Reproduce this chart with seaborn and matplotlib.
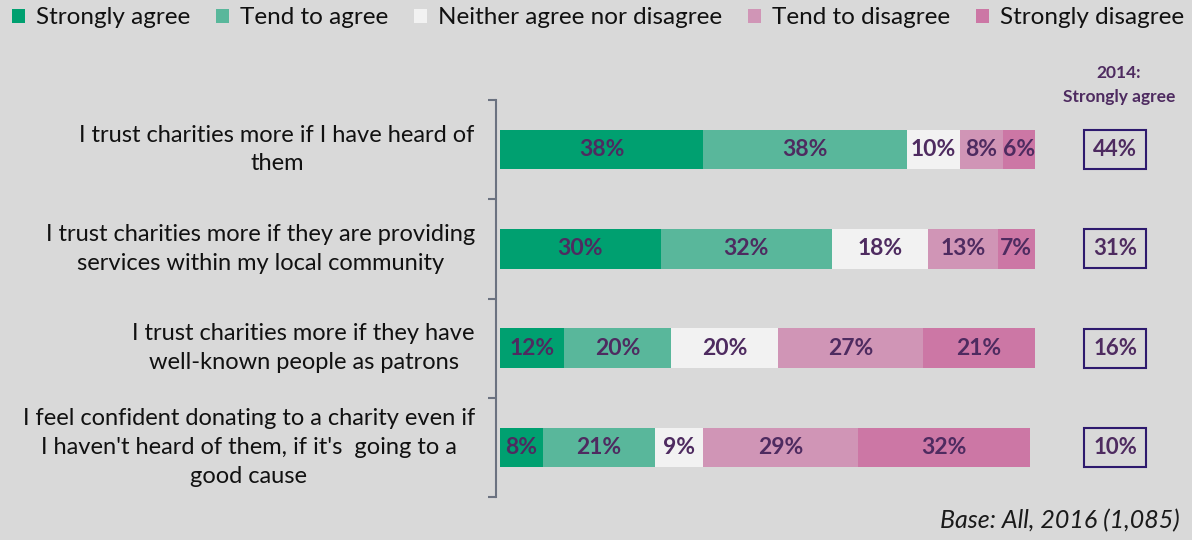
import numpy as np
import pandas as pd
import seaborn as sns
import matplotlib.pyplot as plt
from matplotlib.patches import Patch

statements = ["I trust charities more if I have heard of\nthem",
              "I trust charities more if they are providing\nservices within my local community",
              "I trust charities more if they have\nwell-known people as patrons",
              "I feel confident donating to a charity even if\nI haven't heard of them, if it's  going to a\ngood cause"]
levels = ["Strongly agree", "Tend to agree", "Neither agree nor disagree",
          "Tend to disagree", "Strongly disagree"]
strongly_agree = [38, 30, 12, 8]
tend_agree = [38, 32, 20, 21]
neither = [10, 18, 20, 9]
tend_disagree = [8, 13, 27, 29]
strongly_disagree = [6, 7, 21, 32]
agree_2014 = [44, 31, 16, 10]

colors = ["#00a070", "#59b79b", "#f2f2f2", "#d095b6", "#cc77a5"]
bg = "#d9d9d9"
label_col = "#4e2b60"

sns.set_theme(style="white")
plt.rcParams['font.family'] = ['Lato', 'DejaVu Sans']

df = pd.DataFrame({"statement": statements})
for name, vals in zip(levels, [strongly_agree, tend_agree, neither, tend_disagree, strongly_disagree]):
    df[name] = vals
cum = df[levels].cumsum(axis=1)

fig = plt.figure(figsize=(11.92, 5.4), dpi=100, facecolor=bg)
ax = fig.add_axes([500 / 1192, 43 / 540, 535 / 1192, 397 / 540])
ax.set_facecolor(bg)

# stacked bars: draw cumulative totals from the widest down
for i in range(len(levels) - 1, -1, -1):
    sns.barplot(x=cum[levels[i]], y=df["statement"], color=colors[i], orient="h",
                width=0.4, saturation=1, linewidth=0, ax=ax)

for r in range(len(df)):
    start = 0
    for lv in levels:
        v = df.loc[r, lv]
        ax.text(start + v / 2, r, f"{v}%", ha="center", va="center",
                fontsize=16.5, fontweight="bold", color=label_col)
        start += v
    ax.text(115, r, f"{agree_2014[r]}%", ha="center", va="center", fontsize=16,
            fontweight="bold", color=label_col, clip_on=False,
            bbox=dict(boxstyle="square,pad=0.4", fc=bg, ec="#2e1a6e", lw=1.5))
    # category label, right edge ~25px left of the axis
    ax.text(-0.047, r, df.loc[r, "statement"], transform=ax.get_yaxis_transform(),
            ha="right", va="center", multialignment="center", fontsize=17,
            color="#111111", linespacing=1.45)

ax.set_xlim(0, 100)
ax.set_ylim(3.5, -0.5)
ax.set_xlabel("")
ax.set_ylabel("")
ax.set_xticks([])
ax.set_yticks([-0.5, 0.5, 1.5, 2.5, 3.5])
ax.set_yticklabels([])
ax.tick_params(axis="y", length=6, width=1.5, color="#6b7280", direction="out", left=True)
for s in ["top", "right", "bottom"]:
    ax.spines[s].set_visible(False)
ax.spines["left"].set_color("#6b7280")
ax.spines["left"].set_linewidth(1.5)
ax.spines["left"].set_position(("outward", 3))

fig.text(1119 / 1192, 1 - 85 / 540, "2014:\nStrongly agree", ha="center", va="center",
         fontsize=12.5, fontweight="bold", color=label_col, linespacing=1.65)

handles = [Patch(facecolor=c, edgecolor="none", label=l) for c, l in zip(colors, levels)]
leg = fig.legend(handles=handles, loc="center", bbox_to_anchor=(598 / 1192, 1 - 18 / 540), ncol=5,
                 frameon=False, fontsize=17.5, handlelength=0.55, handleheight=0.55,
                 handletextpad=0.45, columnspacing=1.05, borderaxespad=0, borderpad=0)
for t in leg.get_texts():
    t.set_color("#111111")

fig.text(1180 / 1192, 1 - 521 / 540, "Base: All, 2016 (1,085)", ha="right", va="center",
         fontsize=18, fontstyle="italic", color="#1a1a1a")

fig.savefig("out.png", dpi=100, facecolor=bg)
